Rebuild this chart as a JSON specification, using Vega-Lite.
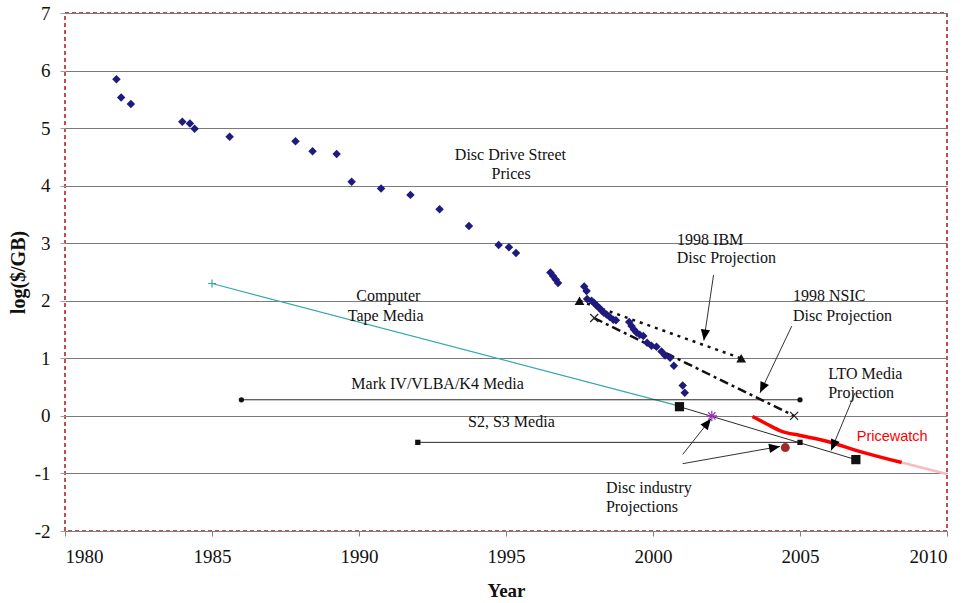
{
  "$schema": "https://vega.github.io/schema/vega-lite/v6.json",
  "width": 882,
  "height": 518,
  "autosize": {"type": "none"},
  "padding": {"left": 65, "top": 13, "right": 25, "bottom": 72},
  "background": "white",
  "config": {
    "view": {"stroke": "#c0504d", "strokeDash": [4, 3], "strokeWidth": 2},
    "font": "Liberation Serif"
  },
  "datasets": {
    "disc": [
      {"year": 1981.75, "v": 5.85}, {"year": 1981.91, "v": 5.53}, {"year": 1982.24, "v": 5.42},
      {"year": 1983.99, "v": 5.11}, {"year": 1984.25, "v": 5.08}, {"year": 1984.41, "v": 4.99},
      {"year": 1985.6, "v": 4.85}, {"year": 1987.84, "v": 4.77}, {"year": 1988.42, "v": 4.6},
      {"year": 1989.24, "v": 4.55}, {"year": 1989.75, "v": 4.07}, {"year": 1990.75, "v": 3.95},
      {"year": 1991.75, "v": 3.84}, {"year": 1992.74, "v": 3.59}, {"year": 1993.74, "v": 3.3},
      {"year": 1994.75, "v": 2.97}, {"year": 1995.1, "v": 2.93}, {"year": 1995.34, "v": 2.83},
      {"year": 1996.51, "v": 2.49}, {"year": 1996.6, "v": 2.43}, {"year": 1996.69, "v": 2.37},
      {"year": 1996.77, "v": 2.31}, {"year": 1997.66, "v": 2.25}, {"year": 1997.74, "v": 2.17},
      {"year": 1997.76, "v": 2.03}, {"year": 1997.91, "v": 2.0}, {"year": 1998.0, "v": 1.96},
      {"year": 1998.08, "v": 1.92}, {"year": 1998.17, "v": 1.88}, {"year": 1998.25, "v": 1.83},
      {"year": 1998.33, "v": 1.79}, {"year": 1998.42, "v": 1.76}, {"year": 1998.53, "v": 1.72},
      {"year": 1998.65, "v": 1.67}, {"year": 1998.74, "v": 1.66}, {"year": 1999.19, "v": 1.63},
      {"year": 1999.27, "v": 1.56}, {"year": 1999.35, "v": 1.5}, {"year": 1999.44, "v": 1.45},
      {"year": 1999.55, "v": 1.41}, {"year": 1999.67, "v": 1.39}, {"year": 1999.8, "v": 1.27},
      {"year": 1999.95, "v": 1.22}, {"year": 2000.12, "v": 1.2}, {"year": 2000.29, "v": 1.12},
      {"year": 2000.41, "v": 1.05}, {"year": 2000.58, "v": 1.01}, {"year": 2000.71, "v": 0.87},
      {"year": 2001.01, "v": 0.53}, {"year": 2001.08, "v": 0.4}
    ],
    "lines": [
      {"series": "Tape", "year": 1985.0, "v": 2.3},
      {"series": "Tape", "year": 2000.9, "v": 0.17},
      {"series": "MarkIV", "year": 1986.0, "v": 0.28},
      {"series": "MarkIV", "year": 2005.0, "v": 0.28},
      {"series": "S2S3", "year": 1992.0, "v": -0.46},
      {"series": "S2S3", "year": 2005.0, "v": -0.46},
      {"series": "IBM", "year": 1997.5, "v": 2.0},
      {"series": "IBM", "year": 2003.0, "v": 1.0},
      {"series": "NSIC", "year": 1998.0, "v": 1.7},
      {"series": "NSIC", "year": 2004.8, "v": 0.0},
      {"series": "LTO", "year": 2000.9, "v": 0.16},
      {"series": "LTO", "year": 2006.9, "v": -0.76},
      {"series": "Pricewatch", "year": 2003.38, "v": -0.01},
      {"series": "Pricewatch", "year": 2003.87, "v": -0.14},
      {"series": "Pricewatch", "year": 2004.38, "v": -0.27},
      {"series": "Pricewatch", "year": 2005.0, "v": -0.34},
      {"series": "Pricewatch", "year": 2005.91, "v": -0.44},
      {"series": "Pricewatch", "year": 2007.05, "v": -0.62},
      {"series": "Pricewatch", "year": 2008.46, "v": -0.81},
      {"series": "PricewatchTrend", "year": 2008.46, "v": -0.81},
      {"series": "PricewatchTrend", "year": 2009.99, "v": -1.01}
    ],
    "markers": [
      {"series": "Tape", "year": 1985.0, "v": 2.3},
      {"series": "MarkIV", "year": 1986.0, "v": 0.28},
      {"series": "MarkIV", "year": 2005.0, "v": 0.28},
      {"series": "S2S3", "year": 1992.0, "v": -0.46},
      {"series": "S2S3", "year": 2005.0, "v": -0.46},
      {"series": "IBM", "year": 1997.5, "v": 2.0},
      {"series": "IBM", "year": 2003.0, "v": 1.0},
      {"series": "NSIC", "year": 1998.0, "v": 1.7},
      {"series": "NSIC", "year": 2004.8, "v": 0.0},
      {"series": "LTO", "year": 2000.9, "v": 0.16},
      {"series": "LTO", "year": 2006.9, "v": -0.76},
      {"series": "StarProj", "year": 2002.0, "v": 0.0},
      {"series": "DotProj", "year": 2004.5, "v": -0.55}
    ],
    "arrows": [
      {"year": 2002.06, "v": 2.45, "year2": 2001.73, "v2": 1.31},
      {"year": 2004.72, "v": 1.56, "year2": 2003.64, "v2": 0.4},
      {"year": 2006.87, "v": 0.4, "year2": 2006.06, "v2": -0.6},
      {"year": 2001.01, "v": -0.67, "year2": 2001.97, "v2": -0.05},
      {"year": 2001.01, "v": -0.83, "year2": 2004.32, "v2": -0.53}
    ],
    "labels": [
      {"text": "Disc Drive Street", "year": 1993.26, "v": 4.54},
      {"text": "Prices", "year": 1994.51, "v": 4.21},
      {"text": "1998 IBM", "year": 2000.82, "v": 3.06},
      {"text": "Disc Projection", "year": 2000.81, "v": 2.75},
      {"text": "1998 NSIC", "year": 2004.76, "v": 2.08},
      {"text": "Disc Projection", "year": 2004.76, "v": 1.74},
      {"text": "Computer", "year": 1989.91, "v": 2.08},
      {"text": "Tape Media", "year": 1989.62, "v": 1.74},
      {"text": "Mark IV/VLBA/K4 Media", "year": 1989.74, "v": 0.555},
      {"text": "S2, S3 Media", "year": 1993.71, "v": -0.11},
      {"text": "LTO Media", "year": 2005.96, "v": 0.73},
      {"text": "Projection", "year": 2005.96, "v": 0.39},
      {"text": "Disc industry", "year": 1998.4, "v": -1.25},
      {"text": "Projections", "year": 1998.4, "v": -1.58},
      {"text": "Pricewatch", "year": 2006.93, "v": -0.37}
    ]
  },
  "encoding": {
    "x": {
      "field": "year", "type": "quantitative",
      "scale": {"domain": [1980, 2010], "nice": false, "zero": false},
      "axis": {
        "title": "Year", "values": [1980, 1985, 1990, 1995, 2000, 2005, 2010], "format": "d",
        "grid": false, "domain": true, "domainColor": "#808080", "tickColor": "#808080", "tickSize": 5,
        "labelFont": "Liberation Serif", "labelFontSize": 19, "labelColor": "#111", "labelPadding": 11,
        "titleFont": "Liberation Serif", "titleFontSize": 19, "titleFontWeight": "bold", "titleColor": "#111",
        "titleY": 59, "titleBaseline": "middle"
      }
    },
    "y": {
      "field": "v", "type": "quantitative",
      "scale": {"domain": [-2, 7], "nice": false, "zero": false},
      "axis": {
        "title": "log($/GB)", "values": [-2, -1, 0, 1, 2, 3, 4, 5, 6, 7],
        "labelExpr": "datum.value < 0 ? '-' + abs(datum.value) : '' + datum.value",
        "grid": true, "gridColor": "#7a7a7a", "gridWidth": 1, "gridOpacity": 1,
        "domain": false, "tickColor": "#a0a0a0", "tickSize": 5,
        "labelFont": "Liberation Serif", "labelFontSize": 19, "labelColor": "#111", "labelPadding": 10,
        "titleFont": "Liberation Serif", "titleFontSize": 20, "titleFontWeight": "bold", "titleColor": "#111",
        "titleX": -47, "titleY": 259, "titleAngle": -90, "titleBaseline": "middle", "titleAlign": "center"
      }
    }
  },
  "layer": [
    {
      "data": {"name": "lines"},
      "transform": [{"filter": "datum.series === 'Tape'"}],
      "mark": {"type": "line", "color": "#35a9ae", "strokeWidth": 1.2}
    },
    {
      "data": {"name": "lines"},
      "transform": [{"filter": "datum.series === 'MarkIV' || datum.series === 'S2S3' || datum.series === 'LTO'"}],
      "mark": {"type": "line", "color": "#2a2a2a", "strokeWidth": 1},
      "encoding": {"detail": {"field": "series"}}
    },
    {
      "data": {"name": "lines"},
      "transform": [{"filter": "datum.series === 'IBM'"}],
      "mark": {"type": "line", "color": "#111111", "strokeWidth": 2.5, "strokeDash": [3, 5], "strokeCap": "butt"}
    },
    {
      "data": {"name": "lines"},
      "transform": [{"filter": "datum.series === 'NSIC'"}],
      "mark": {"type": "line", "color": "#111111", "strokeWidth": 2.5, "strokeDash": [9, 4, 3, 4], "strokeCap": "butt"}
    },
    {
      "data": {"name": "lines"},
      "transform": [{"filter": "datum.series === 'PricewatchTrend'"}],
      "mark": {"type": "line", "color": "#f8bcbc", "strokeWidth": 2.5}
    },
    {
      "data": {"name": "lines"},
      "transform": [{"filter": "datum.series === 'Pricewatch'"}],
      "mark": {"type": "line", "color": "#ff0000", "strokeWidth": 3.5, "interpolate": "monotone"}
    },
    {
      "data": {"name": "disc"},
      "mark": {"type": "point", "shape": "diamond", "filled": true, "size": 72, "color": "#1f1a7e", "opacity": 1}
    },
    {
      "data": {"name": "markers"},
      "transform": [{"filter": "datum.series !== 'Tape' && datum.series !== 'NSIC' && datum.series !== 'StarProj'"}],
      "mark": {"type": "point", "filled": true, "opacity": 1},
      "encoding": {
        "color": {
          "field": "series", "type": "nominal", "legend": null,
          "scale": {
            "domain": ["Tape", "MarkIV", "S2S3", "IBM", "NSIC", "LTO", "StarProj", "DotProj"],
            "range": ["#35a9ae", "#111111", "#111111", "#111111", "#222222", "#111111", "#9a2fbf", "#a3282b"]
          }
        },
        "shape": {
          "field": "series", "type": "nominal", "legend": null,
          "scale": {
            "domain": ["Tape", "MarkIV", "S2S3", "IBM", "NSIC", "LTO", "StarProj", "DotProj"],
            "range": ["M-1,0L1,0M0,-1L0,1", "circle", "square", "triangle-up", "M-1,-1L1,1M-1,1L1,-1", "square", "M-1,0L1,0M0,-1L0,1M-0.7,-0.7L0.7,0.7M-0.7,0.7L0.7,-0.7", "circle"]
          }
        },
        "size": {
          "field": "series", "type": "nominal", "legend": null,
          "scale": {
            "type": "ordinal",
            "domain": ["Tape", "MarkIV", "S2S3", "IBM", "NSIC", "LTO", "StarProj", "DotProj"],
            "range": [64, 28, 28, 95, 64, 85, 110, 80]
          }
        }
      }
    },
    {
      "data": {"name": "markers"},
      "transform": [{"filter": "datum.series === 'Tape' || datum.series === 'NSIC' || datum.series === 'StarProj'"}],
      "mark": {"type": "point", "filled": false, "opacity": 1, "strokeWidth": 1.2},
      "encoding": {
        "color": {
          "field": "series", "type": "nominal", "legend": null,
          "scale": {
            "domain": ["Tape", "MarkIV", "S2S3", "IBM", "NSIC", "LTO", "StarProj", "DotProj"],
            "range": ["#35a9ae", "#111111", "#111111", "#111111", "#222222", "#111111", "#9a2fbf", "#a3282b"]
          }
        },
        "shape": {
          "field": "series", "type": "nominal", "legend": null,
          "scale": {
            "domain": ["Tape", "MarkIV", "S2S3", "IBM", "NSIC", "LTO", "StarProj", "DotProj"],
            "range": ["M-1,0L1,0M0,-1L0,1", "circle", "square", "triangle-up", "M-1,-1L1,1M-1,1L1,-1", "square", "M-1,0L1,0M0,-1L0,1M-0.7,-0.7L0.7,0.7M-0.7,0.7L0.7,-0.7", "circle"]
          }
        },
        "size": {
          "field": "series", "type": "nominal", "legend": null,
          "scale": {
            "type": "ordinal",
            "domain": ["Tape", "MarkIV", "S2S3", "IBM", "NSIC", "LTO", "StarProj", "DotProj"],
            "range": [64, 28, 28, 95, 64, 85, 110, 80]
          }
        }
      }
    },
    {
      "data": {"name": "arrows"},
      "mark": {"type": "rule", "color": "#333333", "strokeWidth": 1},
      "encoding": {
        "x2": {"field": "year2"},
        "y2": {"field": "v2"}
      }
    },
    {
      "data": {"name": "arrows"},
      "transform": [
        {"calculate": "atan2(-(datum.v2 - datum.v) * 518 / 9, (datum.year2 - datum.year) * 882 / 30) * 180 / PI", "as": "ang"}
      ],
      "mark": {"type": "point", "shape": "M0,0L-2,-0.85L-2,0.85Z", "filled": true, "color": "#000000", "size": 120, "opacity": 1},
      "encoding": {
        "x": {"field": "year2", "type": "quantitative"},
        "y": {"field": "v2", "type": "quantitative"},
        "angle": {"field": "ang", "type": "quantitative", "scale": null}
      }
    },
    {
      "data": {"name": "labels"},
      "transform": [{"filter": "datum.text !== 'Pricewatch'"}],
      "mark": {"type": "text", "align": "left", "baseline": "middle", "font": "Liberation Serif", "fontSize": 16, "color": "#111111"},
      "encoding": {"text": {"field": "text"}}
    },
    {
      "data": {"name": "labels"},
      "transform": [{"filter": "datum.text === 'Pricewatch'"}],
      "mark": {"type": "text", "align": "left", "baseline": "middle", "font": "Liberation Sans", "fontSize": 14.5, "color": "#ff0000"},
      "encoding": {"text": {"field": "text"}}
    }
  ]
}
